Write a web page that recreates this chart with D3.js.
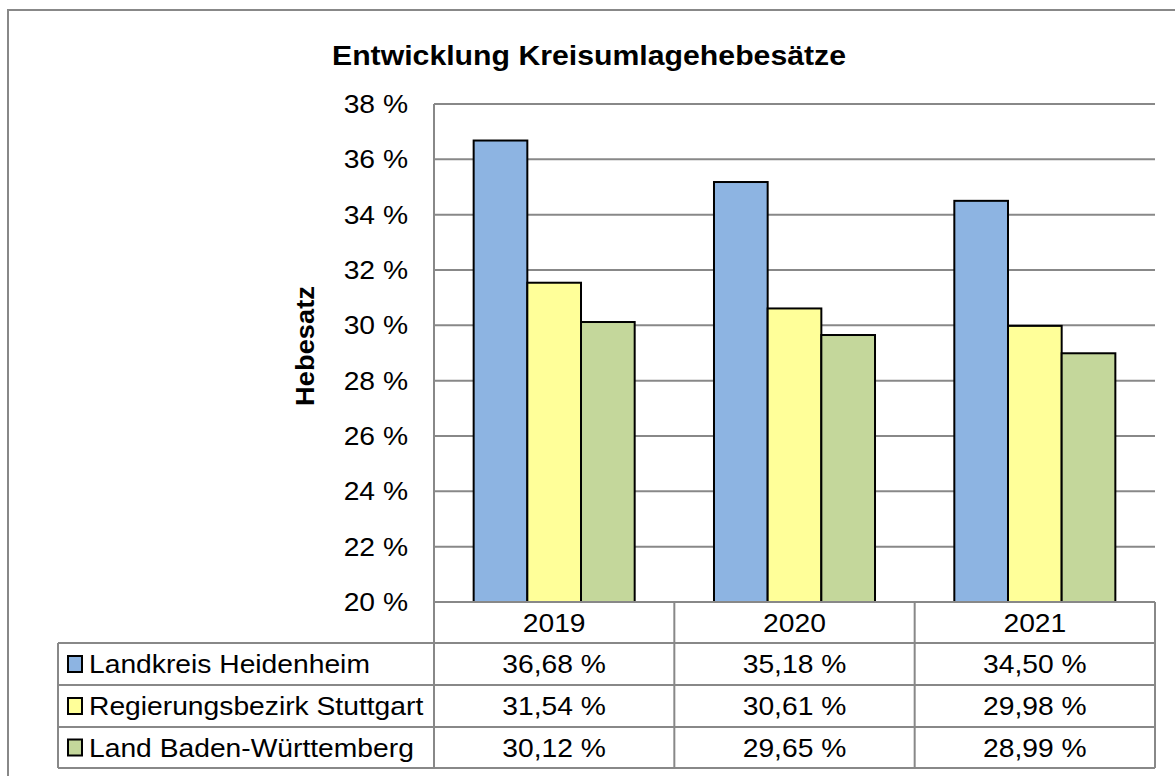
<!DOCTYPE html>
<html><head><meta charset="utf-8">
<script src="https://cdn.jsdelivr.net/npm/d3@7"></script>
<style>body{margin:0;background:#fff}svg{display:block;font-family:"Liberation Sans",Arial,sans-serif}</style>
</head><body><svg id="c" width="1175" height="776"></svg>
<script>
const title = "Entwicklung Kreisumlagehebesätze";
const yTitle = "Hebesatz";
const years = ["2019", "2020", "2021"];
const seriesNames = ["Landkreis Heidenheim", "Regierungsbezirk Stuttgart", "Land Baden-Württemberg"];
const seriesColors = ["#8db4e2", "#ffff99", "#c4d79b"];
const heidenheim = [36.68, 35.18, 34.50];
const stuttgart = [31.54, 30.61, 29.98];
const bw = [30.12, 29.65, 28.99];
const yTicks = [20, 22, 24, 26, 28, 30, 32, 34, 36, 38];

const series = [heidenheim, stuttgart, bw];
const fmt = v => v.toFixed(2).replace(".", ",") + " %";
const SX = 1.13;
const svg = d3.select("#c");
const grid = "#888";

// outer frame
svg.append("rect").attr("x", 8).attr("y", 10).attr("width", 1200).attr("height", 800)
  .attr("fill", "none").attr("stroke", grid).attr("stroke-width", 2);

const L = 434, R = 1155, T = 104, B = 602;
const y = d3.scaleLinear().domain([20, 38]).range([B, T]);
const x = d3.scaleBand().domain(years).range([L, R]).paddingInner(0.33).paddingOuter(0.165);
const xs = d3.scaleBand().domain(d3.range(3)).range([0, x.bandwidth()]);

function txt(g, str, tx, ty, opts) {
  const t = g.append("text").attr("transform", `translate(${tx},${ty}) scale(${opts.sx || SX},1)`)
    .attr("font-size", opts.size || 25).attr("fill", "#000")
    .attr("text-anchor", opts.anchor || "start").attr("dy", "0.36em").text(str);
  if (opts.bold) t.attr("font-weight", "bold");
  return t;
}

// gridlines
const gg = svg.append("g");
gg.selectAll("line").data(yTicks).join("line")
  .attr("x1", L).attr("x2", R).attr("y1", d => y(d)).attr("y2", d => y(d))
  .attr("stroke", grid).attr("stroke-width", 2);
gg.append("line").attr("x1", L).attr("x2", L).attr("y1", T).attr("y2", B)
  .attr("stroke", grid).attr("stroke-width", 2);

// y tick labels
const yt = svg.append("g");
yTicks.forEach(v => txt(yt, v + " %", 408, y(v), {anchor: "end"}));

// bars
const bars = svg.append("g");
years.forEach((yr, i) => {
  series.forEach((s, j) => {
    bars.append("rect")
      .attr("x", x(yr) + xs(j)).attr("width", xs.bandwidth())
      .attr("y", y(s[i])).attr("height", y(20) - y(s[i]))
      .attr("fill", seriesColors[j]).attr("stroke", "#000").attr("stroke-width", 2);
  });
});

// titles
txt(svg, title, 589, 55, {anchor: "middle", bold: true, size: 27, sx: 1.12});
svg.append("text").attr("transform", `translate(305,346) rotate(-90) scale(1.05,1)`)
  .attr("text-anchor", "middle").attr("dy", "0.36em").attr("font-size", 26)
  .attr("font-weight", "bold").text(yTitle);

// data table
const tbl = svg.append("g");
const step = x.step();
const colEdges = years.map(yr => x(yr) - x.paddingOuter() * step * 0 - (step - x.bandwidth()) / 2);
colEdges.push(R);
const rowY = [602, 643, 685, 727, 768];
const TL = 58;
const line = (x1, y1, x2, y2) => tbl.append("line").attr("x1", x1).attr("y1", y1).attr("x2", x2).attr("y2", y2)
  .attr("stroke", grid).attr("stroke-width", 2);
// horizontal lines
line(L, rowY[0], R, rowY[0]);
for (let r = 1; r < rowY.length; r++) line(TL, rowY[r], R, rowY[r]);
// vertical lines
colEdges.forEach(cx => line(cx, rowY[0], cx, rowY[4]));
line(TL, rowY[1], TL, rowY[4]);
// header
years.forEach(yr => txt(tbl, yr, x(yr) + x.bandwidth() / 2, (rowY[0] + rowY[1]) / 2, {anchor: "middle"}));
// rows
series.forEach((s, j) => {
  const cy = (rowY[j + 1] + rowY[j + 2]) / 2;
  tbl.append("rect").attr("x", 68).attr("y", cy - 8).attr("width", 14).attr("height", 16)
    .attr("fill", seriesColors[j]).attr("stroke", "#000").attr("stroke-width", 2);
  txt(tbl, seriesNames[j], 89, cy, {});
  years.forEach((yr, i) => txt(tbl, fmt(s[i]), x(yr) + x.bandwidth() / 2, cy, {anchor: "middle"}));
});
</script></body></html>
